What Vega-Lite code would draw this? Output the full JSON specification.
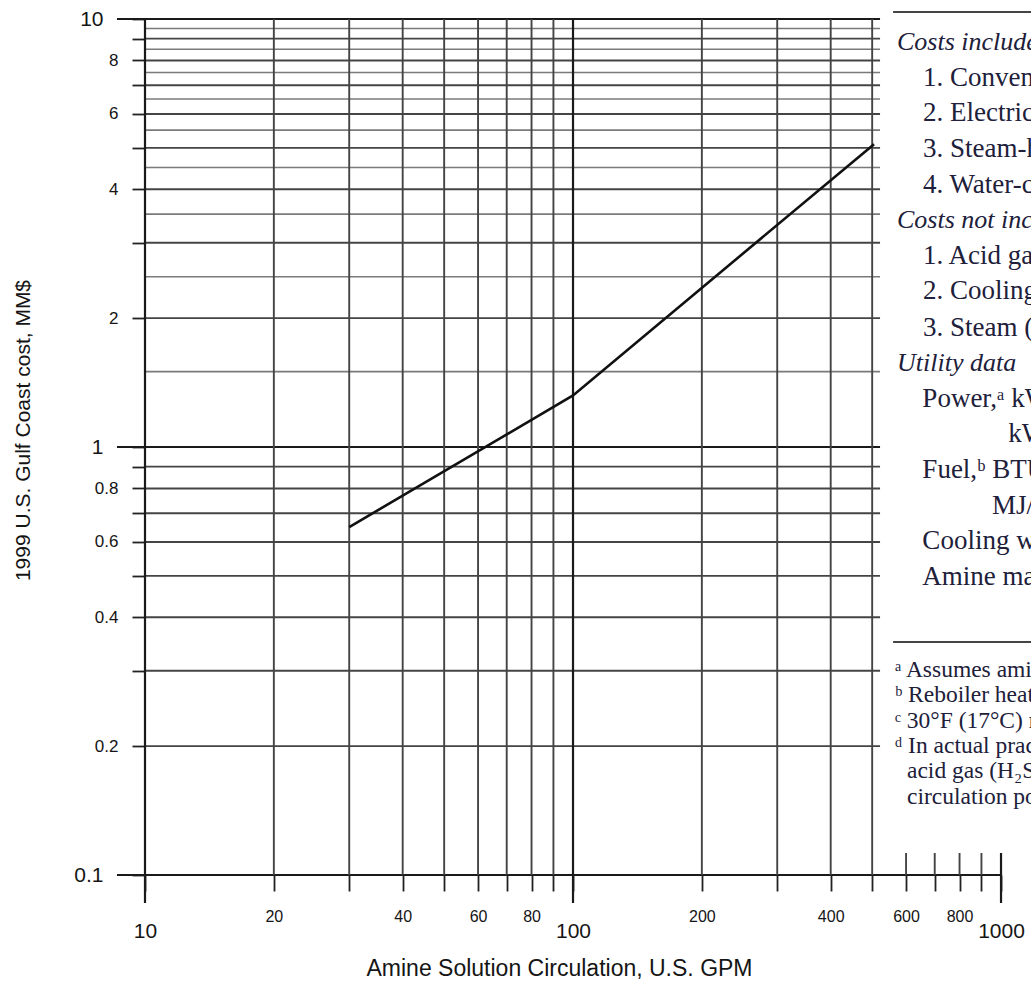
{
  "$schema": "https://vega.github.io/schema/vega-lite/v6.json",
  "width": 886,
  "height": 856,
  "autosize": {"type": "none"},
  "padding": {"left": 145, "top": 19, "right": 0, "bottom": 107},
  "background": "white",
  "config": {"view": {"stroke": null}},
  "datasets": {
    "hgrid": [
      {"cost": 0.1, "kind": "major"}, {"cost": 0.2, "kind": "mid"}, {"cost": 0.3, "kind": "mid"},
      {"cost": 0.4, "kind": "mid"}, {"cost": 0.5, "kind": "mid"}, {"cost": 0.6, "kind": "mid"},
      {"cost": 0.7, "kind": "mid"}, {"cost": 0.8, "kind": "mid"}, {"cost": 0.9, "kind": "mid"},
      {"cost": 1, "kind": "major"}, {"cost": 1.5, "kind": "minor"}, {"cost": 2, "kind": "mid"},
      {"cost": 2.5, "kind": "minor"}, {"cost": 3, "kind": "mid"}, {"cost": 3.5, "kind": "minor"},
      {"cost": 4, "kind": "mid"}, {"cost": 4.5, "kind": "minor"}, {"cost": 5, "kind": "mid"},
      {"cost": 5.5, "kind": "minor"}, {"cost": 6, "kind": "mid"}, {"cost": 6.5, "kind": "minor"},
      {"cost": 7, "kind": "mid"}, {"cost": 7.5, "kind": "minor"}, {"cost": 8, "kind": "mid"},
      {"cost": 8.5, "kind": "minor"}, {"cost": 9, "kind": "mid"}, {"cost": 9.5, "kind": "minor"},
      {"cost": 10, "kind": "major"}
    ],
    "vgrid": [
      {"gpm": 10, "kind": "major"}, {"gpm": 20, "kind": "mid"}, {"gpm": 30, "kind": "mid"},
      {"gpm": 40, "kind": "mid"}, {"gpm": 50, "kind": "mid"}, {"gpm": 60, "kind": "mid"},
      {"gpm": 70, "kind": "mid"}, {"gpm": 80, "kind": "mid"}, {"gpm": 90, "kind": "mid"},
      {"gpm": 100, "kind": "major"}, {"gpm": 200, "kind": "mid"}, {"gpm": 300, "kind": "mid"},
      {"gpm": 400, "kind": "mid"}, {"gpm": 500, "kind": "mid"}, {"gpm": 600, "kind": "mid"},
      {"gpm": 700, "kind": "mid"}, {"gpm": 800, "kind": "mid"}, {"gpm": 900, "kind": "mid"},
      {"gpm": 1000, "kind": "major"}
    ],
    "curve": [
      {"gpm": 30, "cost": 0.65},
      {"gpm": 100, "cost": 1.32},
      {"gpm": 505, "cost": 5.1}
    ],
    "rules": [
      {"cost": 10.39},
      {"cost": 0.3502}
    ],
    "table": [
      {"kind": "head", "x": 571.5, "y": 8.84, "text": "Costs included:"},
      {"kind": "item", "x": 657, "y": 7.29, "text": "1. Conventional amine plant"},
      {"kind": "item", "x": 657, "y": 6.02, "text": "2. Electric-motor-driven pumps"},
      {"kind": "item", "x": 657, "y": 4.97, "text": "3. Steam-heated reboiler"},
      {"kind": "item", "x": 657, "y": 4.10, "text": "4. Water-cooled condenser"},
      {"kind": "head", "x": 571.5, "y": 3.39, "text": "Costs not included:"},
      {"kind": "item", "x": 657, "y": 2.80, "text": "1. Acid gas disposal"},
      {"kind": "item", "x": 657, "y": 2.31, "text": "2. Cooling water supply"},
      {"kind": "item", "x": 657, "y": 1.90, "text": "3. Steam (or fuel) supply"},
      {"kind": "head", "x": 571.5, "y": 1.572, "text": "Utility data"},
      {"kind": "item", "x": 655, "y": 1.297, "text": "Power,ᵃ kW/gpm"},
      {"kind": "item", "x": 1040, "y": 1.071, "text": "kW/(m³/h)"},
      {"kind": "item", "x": 655, "y": 0.884, "text": "Fuel,ᵇ BTU/gal"},
      {"kind": "item", "x": 953, "y": 0.729, "text": "MJ/m³"},
      {"kind": "item", "x": 655, "y": 0.602, "text": "Cooling water,ᶜ gal/gal"},
      {"kind": "item", "x": 655, "y": 0.497, "text": "Amine makeup,ᵈ"},
      {"kind": "note", "x": 565, "y": 0.3013, "text": "ᵃ Assumes amine pumps"},
      {"kind": "note", "x": 565, "y": 0.2630, "text": "ᵇ Reboiler heat duty"},
      {"kind": "note", "x": 565, "y": 0.2295, "text": "ᶜ 30°F (17°C) rise"},
      {"kind": "note", "x": 565, "y": 0.2002, "text": "ᵈ In actual practice"},
      {"kind": "note", "x": 603, "y": 0.1747, "text": "acid gas (H₂S and CO₂)"},
      {"kind": "note", "x": 603, "y": 0.1525, "text": "circulation possible"}
    ]
  },
  "layer": [
    {
      "data": {"name": "hgrid"},
      "transform": [{"filter": "datum.kind != 'major'"}],
      "mark": {"type": "rule"},
      "encoding": {
        "y": {
          "field": "cost", "type": "quantitative",
          "scale": {"type": "log", "domain": [0.1, 10], "nice": false},
          "axis": {
            "values": [0.1, 0.2, 0.3, 0.4, 0.5, 0.6, 0.7, 0.8, 0.9, 1, 2, 3, 4, 5, 6, 7, 8, 9, 10],
            "domain": false, "grid": false,
            "labelExpr": "indexof([10, 8, 6, 4, 2, 1, 0.8, 0.6, 0.4, 0.2, 0.1], datum.value) >= 0 ? '' + datum.value : ''",
            "labelFont": "Liberation Sans",
            "labelFontSize": {"condition": {"test": "datum.value == 10 || datum.value == 1 || datum.value == 0.1", "value": 21}, "value": 17},
            "labelPadding": {"condition": {"test": "datum.value == 10 || datum.value == 1 || datum.value == 0.1", "value": 29}, "value": 14},
            "labelColor": "#151515",
            "labelOverlap": false, "labelFlush": false, "labelBound": false,
            "tickColor": "#222222",
            "tickSize": 13,
            "tickWidth": 1.8,
            "title": "1999 U.S. Gulf Coast cost, MM$",
            "titleFont": "Liberation Sans", "titleFontSize": 21, "titleFontWeight": "normal",
            "titleColor": "#151515",
            "titleAngle": 270, "titleX": -122, "titleY": 411,
            "titleAlign": "center", "titleBaseline": "middle"
          }
        },
        "x": {"datum": 10, "type": "quantitative", "scale": {"type": "log", "domain": [10, 1175], "nice": false}},
        "x2": {"datum": 1000},
        "color": {"field": "kind", "type": "nominal", "scale": {"domain": ["major", "mid", "minor"], "range": ["#1a1a1a", "#444444", "#7a7a7a"]}, "legend": null},
        "strokeWidth": {"field": "kind", "type": "nominal", "scale": {"domain": ["major", "mid", "minor"], "range": [2.2, 1.6, 1.3]}, "legend": null}
      }
    },
    {
      "data": {"name": "hgrid"},
      "transform": [{"filter": "datum.kind == 'major'"}],
      "mark": {"type": "rule"},
      "encoding": {
        "y": {"field": "cost", "type": "quantitative", "scale": {"type": "log", "domain": [0.1, 10], "nice": false}},
        "x": {"datum": 8.6, "type": "quantitative", "scale": {"type": "log", "domain": [10, 1175], "nice": false}},
        "x2": {"datum": 1000},
        "color": {"field": "kind", "type": "nominal", "scale": {"domain": ["major", "mid", "minor"], "range": ["#1a1a1a", "#444444", "#7a7a7a"]}, "legend": null},
        "strokeWidth": {"field": "kind", "type": "nominal", "scale": {"domain": ["major", "mid", "minor"], "range": [2.2, 1.6, 1.3]}, "legend": null}
      }
    },
    {
      "data": {"name": "vgrid"},
      "transform": [{"filter": "datum.kind != 'major'"}],
      "mark": {"type": "rule"},
      "encoding": {
        "x": {
          "field": "gpm", "type": "quantitative",
          "scale": {"type": "log", "domain": [10, 1175], "nice": false},
          "axis": {
            "values": [10, 20, 30, 40, 50, 60, 70, 80, 90, 100, 200, 300, 400, 500, 600, 700, 800, 900, 1000],
            "domain": false, "grid": false,
            "labelExpr": "indexof([10, 20, 40, 60, 80, 100, 200, 400, 600, 800, 1000], datum.value) >= 0 ? '' + datum.value : ''",
            "labelFont": "Liberation Sans",
            "labelFontSize": {"condition": {"test": "datum.value == 10 || datum.value == 100 || datum.value == 1000", "value": 21}, "value": 16},
            "labelPadding": {"condition": {"test": "datum.value == 10 || datum.value == 100 || datum.value == 1000", "value": 29}, "value": 17},
            "labelColor": "#151515",
            "labelOverlap": false, "labelFlush": false, "labelBound": false,
            "tickColor": "#222222",
            "tickSize": 16,
            "tickWidth": 1.8,
            "title": "Amine Solution Circulation, U.S. GPM",
            "titleFont": "Liberation Sans", "titleFontSize": 23, "titleFontWeight": "normal",
            "titleColor": "#151515",
            "titleX": 414, "titleY": 93,
            "titleAlign": "center", "titleBaseline": "middle"
          }
        },
        "y": {"datum": 0.1, "type": "quantitative", "scale": {"type": "log", "domain": [0.1, 10], "nice": false}},
        "y2": {"datum": 10},
        "color": {"field": "kind", "type": "nominal", "scale": {"domain": ["major", "mid", "minor"], "range": ["#1a1a1a", "#444444", "#7a7a7a"]}, "legend": null},
        "strokeWidth": {"field": "kind", "type": "nominal", "scale": {"domain": ["major", "mid", "minor"], "range": [2.2, 1.6, 1.3]}, "legend": null}
      }
    },
    {
      "data": {"name": "vgrid"},
      "transform": [{"filter": "datum.kind == 'major'"}],
      "mark": {"type": "rule"},
      "encoding": {
        "x": {"field": "gpm", "type": "quantitative", "scale": {"type": "log", "domain": [10, 1175], "nice": false}},
        "y": {"datum": 0.086, "type": "quantitative", "scale": {"type": "log", "domain": [0.1, 10], "nice": false}},
        "y2": {"datum": 10},
        "color": {"field": "kind", "type": "nominal", "scale": {"domain": ["major", "mid", "minor"], "range": ["#1a1a1a", "#444444", "#7a7a7a"]}, "legend": null},
        "strokeWidth": {"field": "kind", "type": "nominal", "scale": {"domain": ["major", "mid", "minor"], "range": [2.2, 1.6, 1.3]}, "legend": null}
      }
    },
    {
      "data": {"name": "curve"},
      "mark": {"type": "line", "color": "#111111", "strokeWidth": 2.6},
      "encoding": {
        "x": {"field": "gpm", "type": "quantitative", "scale": {"type": "log", "domain": [10, 1175], "nice": false}},
        "y": {"field": "cost", "type": "quantitative", "scale": {"type": "log", "domain": [0.1, 10], "nice": false}}
      }
    },
    {
      "data": {"values": [{}]},
      "mark": {"type": "rect", "color": "white", "opacity": 1},
      "encoding": {
        "x": {"datum": 521.6, "type": "quantitative", "scale": {"type": "log", "domain": [10, 1175], "nice": false}},
        "x2": {"datum": 1175},
        "y": {"datum": 0.1126, "type": "quantitative", "scale": {"type": "log", "domain": [0.1, 10], "nice": false}},
        "y2": {"datum": 11.1}
      }
    },
    {
      "data": {"name": "rules"},
      "mark": {"type": "rule", "color": "#444444", "strokeWidth": 2},
      "encoding": {
        "y": {"field": "cost", "type": "quantitative", "scale": {"type": "log", "domain": [0.1, 10], "nice": false}},
        "x": {"datum": 559.5, "type": "quantitative", "scale": {"type": "log", "domain": [10, 1175], "nice": false}},
        "x2": {"datum": 1175}
      }
    },
    {
      "data": {"name": "table"},
      "transform": [{"filter": "datum.kind == 'head'"}],
      "mark": {"type": "text", "align": "left", "baseline": "middle", "font": "Liberation Serif", "fontSize": 26, "fontStyle": "italic", "color": "#20203a", "clip": true},
      "encoding": {
        "x": {"field": "x", "type": "quantitative", "scale": {"type": "log", "domain": [10, 1175], "nice": false}},
        "y": {"field": "y", "type": "quantitative", "scale": {"type": "log", "domain": [0.1, 10], "nice": false}},
        "text": {"field": "text"}
      }
    },
    {
      "data": {"name": "table"},
      "transform": [{"filter": "datum.kind == 'item'"}],
      "mark": {"type": "text", "align": "left", "baseline": "middle", "font": "Liberation Serif", "fontSize": 27, "color": "#20203a", "clip": true},
      "encoding": {
        "x": {"field": "x", "type": "quantitative", "scale": {"type": "log", "domain": [10, 1175], "nice": false}},
        "y": {"field": "y", "type": "quantitative", "scale": {"type": "log", "domain": [0.1, 10], "nice": false}},
        "text": {"field": "text"}
      }
    },
    {
      "data": {"name": "table"},
      "transform": [{"filter": "datum.kind == 'note'"}],
      "mark": {"type": "text", "align": "left", "baseline": "middle", "font": "Liberation Serif", "fontSize": 23.5, "color": "#20203a", "clip": true},
      "encoding": {
        "x": {"field": "x", "type": "quantitative", "scale": {"type": "log", "domain": [10, 1175], "nice": false}},
        "y": {"field": "y", "type": "quantitative", "scale": {"type": "log", "domain": [0.1, 10], "nice": false}},
        "text": {"field": "text"}
      }
    }
  ]
}
